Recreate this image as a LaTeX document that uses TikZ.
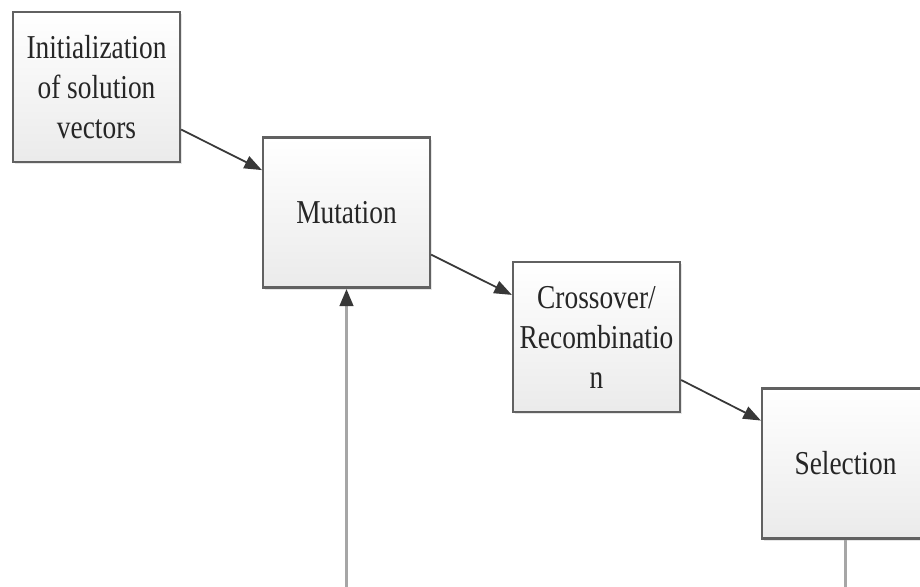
\documentclass[tikz,border=0pt]{standalone}
\usepackage{fontspec}
\setmainfont{Liberation Serif}[FakeStretch=0.82]
\usetikzlibrary{arrows.meta,shadows}
\begin{document}
\begin{tikzpicture}[x=0.02cm, y=-0.02cm,
        >={Triangle[length=10pt,width=7.5pt]},
        stage/.style={draw=black!62, line width=1.3pt, top color=white, bottom color=black!8,
            minimum width=3.34cm, minimum height=3cm, align=center, text=black!85,
            font=\fontsize{19}{22.8}\selectfont,
            drop shadow={shadow xshift=1.2pt, shadow yshift=-1.2pt, opacity=.2}},
        flow/.style={->, draw=black!78, line width=1pt},
        back/.style={draw=black!35, line width=2.2pt}]
        \useasboundingbox (0,0) rectangle (920,586);
        \clip (0,0) rectangle (920,586);
        \node[stage] (init) at (96.5,87) {Initialization\\of solution\\vectors};
        \node[stage] (mutation) at (346.5,212.5) {Mutation};
        \node[stage] (crossover) at (596.5,337) {Crossover/\\Recombinatio\\n};
        \node[stage] (selection) at (845.5,463.5) {Selection};
        \draw[flow] (init) -- (mutation);
        \draw[flow] (mutation) -- (crossover);
        \draw[flow] (crossover) -- (selection);
        % loop back, runs out of the frame
        \coordinate (mutfoot) at (346.5,640);
        \coordinate (selfoot) at (845.5,640);
        \draw[back, -{Triangle[length=10pt,width=7.5pt,color=black!78]}] (mutfoot) -- (mutation.south);
        \draw[back] (selection.south) -- (selfoot);
\end{tikzpicture}
\end{document}
